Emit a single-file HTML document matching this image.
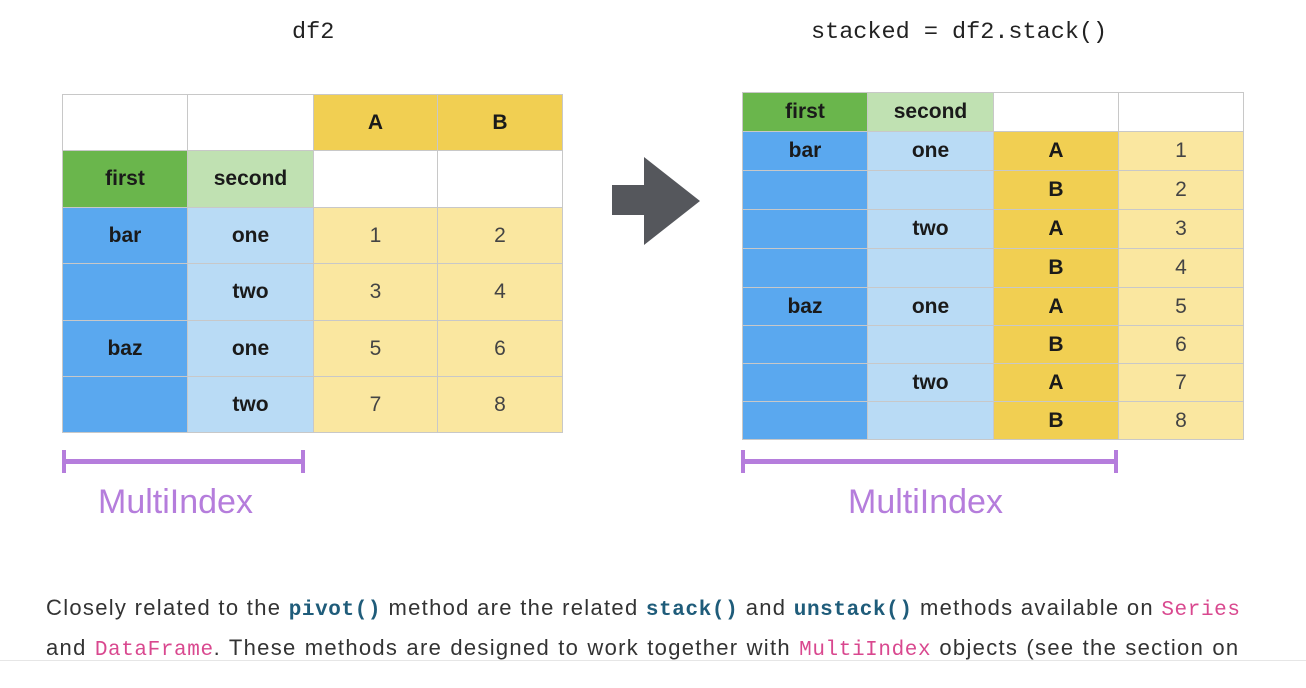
<!DOCTYPE html>
<html><head><meta charset="utf-8"><style>
body{margin:0;width:1306px;height:688px;background:#fff;position:relative;overflow:hidden;font-family:"Liberation Sans",sans-serif}
.a{position:absolute}
table{position:absolute;border-collapse:collapse;table-layout:fixed}
td{border:1px solid #c8c8c8;text-align:center;font-size:21px;font-weight:bold;color:#1a1a1a;padding:0}
td.n{font-weight:normal;color:#444}
.w{background:#fff}.y{background:#f1cf52}.g{background:#6ab64c}.lg{background:#c0e1b2}.b{background:#5aa8ef}.lb{background:#b9dbf5}.ly{background:#fae7a0}
.mono{font-family:"Liberation Mono",monospace;font-size:23.5px;color:#222}
.br{background:#b57ddc}
.mi{color:#b57ddc;font-size:34px}
.p{font-size:22px;color:#333;white-space:nowrap;letter-spacing:1.3px}
code{font-family:"Liberation Mono",monospace;font-size:21px;letter-spacing:0.6px}
.c1{color:#1f5c7a;font-weight:bold}.c2{color:#d9488f}
</style></head><body>
<div class="a mono" style="left:292px;top:19px">df2</div>
<div class="a mono" style="left:811px;top:19px">stacked = df2.stack()</div>

<table style="left:62px;top:94px;width:500px">
<colgroup><col style="width:125px"><col style="width:126px"><col style="width:124px"><col style="width:125px"></colgroup>
<tr style="height:56px"><td class="w"></td><td class="w"></td><td class="y">A</td><td class="y">B</td></tr>
<tr style="height:57px"><td class="g">first</td><td class="lg">second</td><td class="w"></td><td class="w"></td></tr>
<tr style="height:56px"><td class="b">bar</td><td class="lb">one</td><td class="ly n">1</td><td class="ly n">2</td></tr>
<tr style="height:57px"><td class="b"></td><td class="lb">two</td><td class="ly n">3</td><td class="ly n">4</td></tr>
<tr style="height:56px"><td class="b">baz</td><td class="lb">one</td><td class="ly n">5</td><td class="ly n">6</td></tr>
<tr style="height:56px"><td class="b"></td><td class="lb">two</td><td class="ly n">7</td><td class="ly n">8</td></tr>
</table>

<svg class="a" style="left:0;top:0" width="1306" height="688"><polygon points="612,185 644,185 644,157 700,201 644,245 644,215 612,215" fill="#55575c"/></svg>

<table style="left:742px;top:92px;width:501px">
<colgroup><col style="width:125px"><col style="width:126px"><col style="width:125px"><col style="width:125px"></colgroup>
<tr style="height:39px"><td class="g">first</td><td class="lg">second</td><td class="w"></td><td class="w"></td></tr>
<tr style="height:39px"><td class="b">bar</td><td class="lb">one</td><td class="y">A</td><td class="ly n">1</td></tr>
<tr style="height:39px"><td class="b"></td><td class="lb"></td><td class="y">B</td><td class="ly n">2</td></tr>
<tr style="height:39px"><td class="b"></td><td class="lb">two</td><td class="y">A</td><td class="ly n">3</td></tr>
<tr style="height:39px"><td class="b"></td><td class="lb"></td><td class="y">B</td><td class="ly n">4</td></tr>
<tr style="height:38px"><td class="b">baz</td><td class="lb">one</td><td class="y">A</td><td class="ly n">5</td></tr>
<tr style="height:38px"><td class="b"></td><td class="lb"></td><td class="y">B</td><td class="ly n">6</td></tr>
<tr style="height:38px"><td class="b"></td><td class="lb">two</td><td class="y">A</td><td class="ly n">7</td></tr>
<tr style="height:38px"><td class="b"></td><td class="lb"></td><td class="y">B</td><td class="ly n">8</td></tr>
</table>

<div class="a br" style="left:62px;top:450px;width:4px;height:23px"></div>
<div class="a br" style="left:62px;top:459px;width:243px;height:5px"></div>
<div class="a br" style="left:301px;top:450px;width:4px;height:23px"></div>
<div class="a mi" style="left:98px;top:483px">MultiIndex</div>

<div class="a br" style="left:741px;top:450px;width:4px;height:23px"></div>
<div class="a br" style="left:741px;top:459px;width:377px;height:5px"></div>
<div class="a br" style="left:1114px;top:450px;width:4px;height:23px"></div>
<div class="a mi" style="left:848px;top:483px">MultiIndex</div>

<div class="a p" style="left:46px;top:595px">Closely related to the <code class="c1">pivot()</code> method are the related <code class="c1">stack()</code> and <code class="c1">unstack()</code> methods available on <code class="c2">Series</code></div>
<div class="a p" style="left:46px;top:635px;word-spacing:0.8px">and <code class="c2">DataFrame</code>. These methods are designed to work together with <code class="c2">MultiIndex</code> objects (see the section on</div>
<div class="a" style="left:0;top:660px;width:1306px;height:1px;background:#e6e6e6"></div>
<div class="a" style="left:0;top:661px;width:1306px;height:27px;background:#fff"></div>
</body></html>
